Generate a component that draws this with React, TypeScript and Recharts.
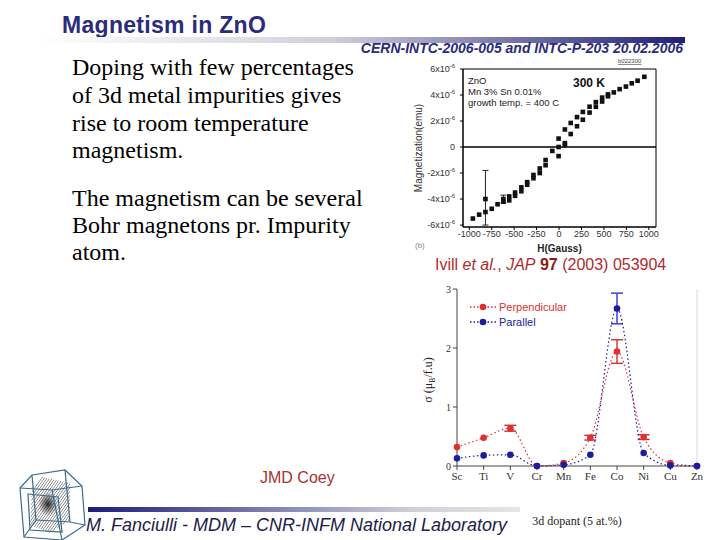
import React from 'react';
import {
  ScatterChart, Scatter, XAxis, YAxis, ErrorBar, ReferenceLine, ReferenceArea,
  LineChart, Line, Legend,
} from 'recharts';

// ---------- Hysteresis loop (Ivill et al.) ----------
const fieldDesc = [-960, -890, -820, -750, -685, -620, -555, -490, -420, -355, -285, -215, -150, -75, -5, 65, 130, 200, 265, 340, 410, 480, 545, 610, 675, 745, 810, 875, 950];
const magDesc = [-5.5, -5.2, -4.0, -4.75, -4.4, -4.0, -3.8, -3.5, -3.1, -2.7, -2.15, -1.65, -1.0, -0.3, 0.65, 1.35, 1.85, 2.3, 2.7, 3.1, 3.45, 3.8, 4.05, 4.2, 4.45, 4.65, 4.9, 5.1, 5.4];
const errDesc: (number[] | number | null)[] = [null, null, [2.0, 2.2], null, null, 0.3, null, null, null, null, null, null, null, null, null, null, null, null, null, null, null, null, null, null, null, null, null, null, null];
const fieldAsc = [-820, -620, -555, -490, -420, -355, -285, -215, -150, -5, -5, 65, 65, 130, 200, 265, 340, 410, 480, 545];
const magAsc = [-5.0, -4.2, -4.1, -3.75, -3.4, -2.9, -2.4, -2.0, -1.4, -0.7, 0.0, 0.15, 0.3, 1.0, 1.6, 2.1, 2.65, 3.1, 3.5, 3.9];
const fieldTicks = [-1000, -750, -500, -250, 0, 250, 500, 750, 1000];
const magTicks = [-6, -4, -2, 0, 2, 4, 6];

// ---------- Moment per dopant (JMD Coey) ----------
const dopants = ['Sc', 'Ti', 'V', 'Cr', 'Mn', 'Fe', 'Co', 'Ni', 'Cu', 'Zn'];
const perpendicular = [0.32, 0.48, 0.64, 0.0, 0.05, 0.48, 1.94, 0.49, 0.05, 0.0];
const perpErr: (number | null)[] = [null, null, 0.05, null, null, 0.04, 0.2, 0.04, null, null];
const parallel = [0.13, 0.18, 0.19, 0.0, 0.02, 0.19, 2.67, 0.22, 0.01, 0.0];
const parErr: (number | null)[] = [null, null, null, null, null, null, 0.26, null, null, null];
const sigmaTicks = [0, 1, 2, 3];
const seriesNames = ['Perpendicular', 'Parallel'];

const SANS = '"Liberation Sans", Arial, sans-serif';
const SERIF = '"Liberation Serif", "Times New Roman", serif';
const NAVY = '#2b2b7b';
const RED = '#e0302e';
const BLUE = '#1c1c9c';

const descData = fieldDesc.map((h, i) => ({ h, m: magDesc[i], err: errDesc[i] }));
const ascData = fieldAsc.map((h, i) => ({ h, m: magAsc[i] }));
const dopantData = dopants.map((d, i) => ({
  d, perp: perpendicular[i], perpErr: perpErr[i], par: parallel[i], parErr: parErr[i],
}));

const SquareDot = (p: any) => (
  <rect x={p.cx - 2.3} y={p.cy - 2.3} width={4.6} height={4.6} fill="#111" />
);

const MagTick = (props: any) => {
  const { x, y, payload } = props;
  const v = payload.value;
  if (v === 0) {
    return <text x={x - 3} y={y} dy={3} textAnchor="end" fontSize={9} fill="#333" fontFamily={SANS}>0</text>;
  }
  return (
    <text x={x - 3} y={y} dy={3} textAnchor="end" fontSize={9} fill="#333" fontFamily={SANS}>
      {`${v}x10`}<tspan dy={-4} fontSize={6}>-6</tspan>
    </text>
  );
};

const SigmaLabel = () => (
  <text transform="translate(32,100) rotate(-90)" textAnchor="middle" fontFamily={SERIF} fontSize={12} fill="#222">
    σ (μ<tspan dy={3} fontSize={8}>B</tspan><tspan dy={-3}>/f.u)</tspan>
  </text>
);

const LegendBox = (props: any) => {
  const payload = [...(props.payload || [])].sort(
    (a: any, b: any) => seriesNames.indexOf(a.value) - seriesNames.indexOf(b.value),
  );
  return (
    <svg width={130} height={34} style={{ display: 'block' }}>
      {payload.map((p: any, i: number) => {
        const y = 7 + i * 15;
        return (
          <g key={i}>
            <line x1={2} x2={29} y1={y} y2={y} stroke={p.color} strokeDasharray="1.5 2" strokeWidth={1.3} />
            <circle cx={15} cy={y} r={3.3} fill={p.color} />
            <text x={31} y={y + 4} fontFamily={SANS} fontSize={11} fill={p.color}>{p.value}</text>
          </g>
        );
      })}
    </svg>
  );
};

function Logo() {
  const c = '#3d6b8c';
  return (
    <g>
      <defs>
        <pattern id="hatch" width="2.2" height="2.2" patternUnits="userSpaceOnUse" patternTransform="rotate(35)">
          <line x1="0" y1="0" x2="0" y2="2.2" stroke="#111" strokeWidth="0.9" />
        </pattern>
        <radialGradient id="blob" cx="0.5" cy="0.5" r="0.5">
          <stop offset="0" stopColor="#000" stopOpacity="0.8" />
          <stop offset="1" stopColor="#000" stopOpacity="0" />
        </radialGradient>
      </defs>
      <polygon points="32,488 42,477 70,483 70,520 50,533 30,525" fill="url(#hatch)" opacity="0.85" />
      <ellipse cx="48" cy="504" rx="10" ry="12" fill="url(#blob)" />
      <g fill="none" stroke={c} strokeWidth="1.2">
        <polygon points="20,488 32,475 65,470 82,486 85,525 62,540 24,537" />
        <polyline points="20,488 52,490 82,486" />
        <line x1="52" y1="490" x2="62" y2="540" />
        <polyline points="32,475 36,520 24,537" />
        <polyline points="36,520 70,522 85,525" />
        <line x1="65" y1="470" x2="70" y2="522" />
        <polygon points="28,494 58,497 62,532 30,530" />
      </g>
    </g>
  );
}

export default function App() {
  return (
    <div style={{ position: 'absolute', left: 0, top: 0, width: 720, height: 540, background: '#fff', overflow: 'hidden' }}>
      <svg width={720} height={540} style={{ position: 'absolute', left: 0, top: 0 }}>
        <defs>
          <linearGradient id="topbar" x1="0" x2="1" y1="0" y2="0">
            <stop offset="0" stopColor="#ffffff" />
            <stop offset="0.45" stopColor="#d0d0dc" />
            <stop offset="1" stopColor="#1f1f78" />
          </linearGradient>
          <linearGradient id="botbar" x1="0" x2="1" y1="0" y2="0">
            <stop offset="0" stopColor="#1c1c7c" />
            <stop offset="0.75" stopColor="#cfcfd8" />
            <stop offset="1" stopColor="#e6e6e6" />
          </linearGradient>
        </defs>
        <text x={62} y={33} fontFamily={SANS} fontWeight="bold" fontSize={23} letterSpacing={0.3} fill={NAVY}>Magnetism in ZnO</text>
        <rect x={40} y={37} width={645} height={6} fill="url(#topbar)" />
        <text x={683} y={53} textAnchor="end" fontFamily={SANS} fontWeight="bold" fontStyle="italic" fontSize={14} fill={NAVY}>CERN-INTC-2006-005 and INTC-P-203 20.02.2006</text>

        <g fontFamily={SERIF} fontSize={24} fill="#000">
          <text x={72} y={75}>Doping with few percentages</text>
          <text x={72} y={103}>of 3d metal impurities gives</text>
          <text x={72} y={131}>rise to room temperature</text>
          <text x={72} y={158}>magnetism.</text>
          <text x={72} y={206}>The magnetism can be several</text>
          <text x={72} y={233}>Bohr magnetons pr. Impurity</text>
          <text x={72} y={260}>atom.</text>
        </g>

        <text x={435} y={270} fontFamily={SANS} fontSize={16} fill="#b02a2a">
          Ivill <tspan fontStyle="italic">et al.</tspan>, <tspan fontStyle="italic">JAP</tspan> <tspan fontWeight="bold" fill="#8a1a1a">97</tspan> (2003) 053904
        </text>

        <g fontFamily={SANS} fill="#222">
          <text x={468} y={84} fontSize={9.5}>ZnO</text>
          <text x={468} y={95} fontSize={9.5}>Mn 3% Sn 0.01%</text>
          <text x={468} y={106} fontSize={9.5}>growth temp. = 400 C</text>
          <text x={573} y={87} fontSize={12} fontWeight="bold" fill="#111">300 K</text>
          <text x={618} y={63} fontSize={6} textDecoration="underline" fill="#444">b022300</text>
          <text x={415} y={248} fontSize={8} fill="#888">(b)</text>
        </g>

        <text x={260} y={483} fontFamily={SANS} fontSize={16} fill="#a83232">JMD Coey</text>

        <rect x={88} y={507} width={432} height={5} fill="url(#botbar)" />
        <text x={86} y={531} fontFamily={SANS} fontStyle="italic" fontSize={18} fill="#20204a">M. Fanciulli - MDM – CNR-INFM National Laboratory</text>
        <Logo />
      </svg>

      <div style={{ position: 'absolute', left: 400, top: 40 }}>
        <ScatterChart width={300} height={230} margin={{ top: 29, right: 44, left: 0, bottom: 0 }}>
          <XAxis
            type="number" dataKey="h" domain={[-1070, 1080]} ticks={fieldTicks} interval={0}
            tick={{ fontSize: 9, fill: '#333', fontFamily: SANS }} tickSize={3} tickMargin={1}
            stroke="#000" height={43}
            label={{ value: 'H(Gauss)', position: 'insideBottom', offset: 18, fontSize: 10, fontWeight: 'bold', fill: '#222', fontFamily: SANS }}
          />
          <YAxis
            type="number" dataKey="m" domain={[-6.15, 6]} ticks={magTicks} interval={0}
            tick={<MagTick />} tickSize={3} stroke="#000" width={63}
            label={{ value: 'Magnetization(emu)', angle: -90, position: 'insideLeft', offset: 18, fontSize: 10, fill: '#333', fontFamily: SANS, style: { textAnchor: 'middle' } }}
          />
          <ReferenceArea x1={-1070} x2={1080} y1={-6.15} y2={6} fill="none" fillOpacity={0} stroke="#000" strokeWidth={1} />
          <ReferenceLine y={0} stroke="#000" strokeWidth={1.3} />
          <Scatter data={descData} fill="#111" shape={<SquareDot />} isAnimationActive={false}>
            <ErrorBar dataKey="err" direction="y" width={3} stroke="#222" strokeWidth={1} />
          </Scatter>
          <Scatter data={ascData} fill="#111" shape={<SquareDot />} isAnimationActive={false} />
        </ScatterChart>
      </div>

      <div style={{ position: 'absolute', left: 400, top: 280 }}>
        <LineChart width={320} height={250} data={dopantData} margin={{ top: 9, right: 23, left: 0, bottom: 0 }}>
          <XAxis
            dataKey="d" interval={0} tick={{ fontSize: 11, fill: '#333', fontFamily: SERIF }} tickSize={4}
            stroke="#444" height={64}
            label={{ value: '3d dopant (5 at.%)', position: 'insideBottom', offset: 5, fontSize: 12, fill: '#222', fontFamily: SERIF }}
          />
          <YAxis
            domain={[0, 3]} ticks={sigmaTicks} interval={0} tick={{ fontSize: 10, fill: '#333', fontFamily: SERIF }}
            tickSize={4} stroke="#444" width={57} label={<SigmaLabel />}
          />
          <ReferenceLine x="Zn" stroke="#d8d8d8" />
          <Legend
            verticalAlign="middle" align="center" layout="vertical"
            wrapperStyle={{ position: 'absolute', left: 68, top: 20, width: 'auto' }}
            content={<LegendBox />}
          />
          <Line
            name="Perpendicular" dataKey="perp" type="monotone" stroke={RED} strokeWidth={1.2}
            strokeDasharray="1.5 2.5" dot={{ r: 3.3, fill: RED, stroke: RED, strokeWidth: 0 }}
            isAnimationActive={false}
          >
            <ErrorBar dataKey="perpErr" direction="y" width={6} stroke="#d03030" strokeWidth={1.4} />
          </Line>
          <Line
            name="Parallel" dataKey="par" type="monotone" stroke={BLUE} strokeWidth={1.2}
            strokeDasharray="1.5 2.5" dot={{ r: 3.3, fill: BLUE, stroke: BLUE, strokeWidth: 0 }}
            isAnimationActive={false}
          >
            <ErrorBar dataKey="parErr" direction="y" width={6} stroke="#4a4ad6" strokeWidth={1.6} />
          </Line>
        </LineChart>
      </div>
    </div>
  );
}
